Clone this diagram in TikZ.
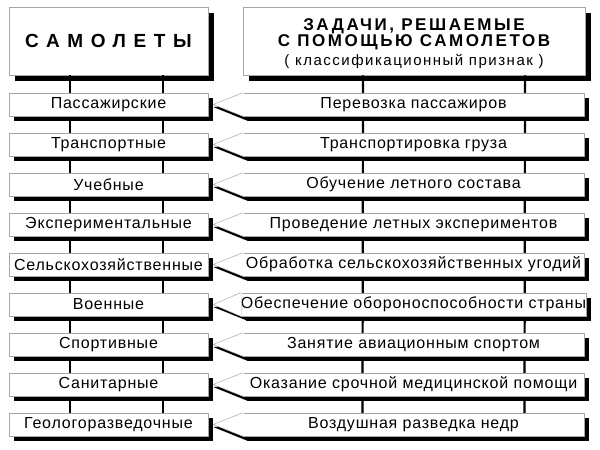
\documentclass[tikz,border=0pt]{standalone}
\usepackage{fontspec}
\setmainfont{Liberation Sans}
\usetikzlibrary{shadows,calc}
\begin{document}
\begin{tikzpicture}[x=1pt,y=-1pt,
  shd/.style={drop shadow={shadow xshift=5pt, shadow yshift=-5pt, fill=black, opacity=1}},
  hshd/.style={drop shadow={shadow xshift=6pt, shadow yshift=-6pt, fill=black, opacity=1}},
  frame/.style={draw=gray!70, line width=0.5pt, fill=white, inner sep=0pt},
  rowfont/.style={font=\fontsize{16}{18}\selectfont\addfontfeatures{LetterSpace=5}},
  lbox/.style={frame, shd, rowfont, minimum width=199pt, minimum height=23pt},
  rbox/.style={frame, shd, rowfont, minimum width=341pt, minimum height=23pt},
  htitle/.style={anchor=base, inner sep=0pt, font=\fontsize{17}{17}\selectfont\bfseries\addfontfeatures{LetterSpace=15}},
  hsub/.style={anchor=base, inner sep=0pt, font=\fontsize{15}{15}\selectfont\addfontfeatures{LetterSpace=10}},
  vline/.style={line width=2.2pt, black},
  tipfill/.style={fill=white},
  tipedge/.style={draw=gray!70, line width=0.5pt},
  tipshadow/.style={fill=black}
]
\useasboundingbox (0,0) rectangle (600,450);

% headers
\node[frame, hshd, minimum width=199pt, minimum height=68pt] (HL) at (108.5,41)
  {\fontsize{19}{21}\selectfont\bfseries\addfontfeatures{LetterSpace=40}САМОЛЕТЫ};
\node[frame, hshd, minimum width=342pt, minimum height=68pt] (HR) at (414,41) {};
\node[htitle] (HR1) at ([yshift=-24pt]HR.north) {ЗАДАЧИ, РЕШАЕМЫЕ};
\node[htitle] (HR2) at ([yshift=-40pt]HR.north) {С ПОМОЩЬЮ САМОЛЕТОВ};
\node[hsub] (HR3) at ([yshift=-58.5pt]HR.north) {( классификационный признак )};

% row coordinates
\foreach \i in {1,...,9} {
  \coordinate (PL\i) at (108.5,{104.5+40*(\i-1)});
  \coordinate (PR\i) at (413.5,{104.5+40*(\i-1)});
}

% vertical connectors (behind boxes)
\draw[vline] ([xshift=-38.5pt]HL.south) -- ([xshift=-38.5pt]PL9);
\draw[vline] ([xshift=54.5pt]HL.south) -- ([xshift=54.5pt]PL9);
\draw[vline] ([xshift=-51pt]HR.south) -- ([xshift=-51pt]PR9);
\draw[vline] ([xshift=111pt]HR.south) -- ([xshift=111pt]PR9);

\foreach \i/\lt/\rt in {
  1/Пассажирские/Перевозка пассажиров,
  2/Транспортные/Транспортировка груза,
  3/Учебные/Обучение летного состава,
  4/Экспериментальные/Проведение летных экспериментов,
  5/Сельскохозяйственные/Обработка сельскохозяйственных угодий,
  6/Военные/Обеспечение обороноспособности страны,
  7/Спортивные/Занятие авиационным спортом,
  8/Санитарные/Оказание срочной медицинской помощи,
  9/Геологоразведочные/Воздушная разведка недр} {
  \node[lbox] (L\i) at (PL\i) {\lt};
  \coordinate (T\i) at ([xshift=5pt]L\i.east);
  \fill[tipshadow] ([shift={(0,2.5)}]T\i) -- ([shift={(5,0)}]PR\i -| 243,0) -- ([shift={(5,5)}]243,{116+40*(\i-1)}) -- cycle;
  \node[rbox] (R\i) at (PR\i) {\rt};
  \fill[tipfill] (T\i) -- (R\i.north west) -- ([xshift=1pt]R\i.north west) -- ([xshift=1pt]R\i.south west) -- (R\i.south west) -- cycle;
  \draw[tipedge] (R\i.north west) -- (T\i) -- (R\i.south west);
}
\end{tikzpicture}
\end{document}
